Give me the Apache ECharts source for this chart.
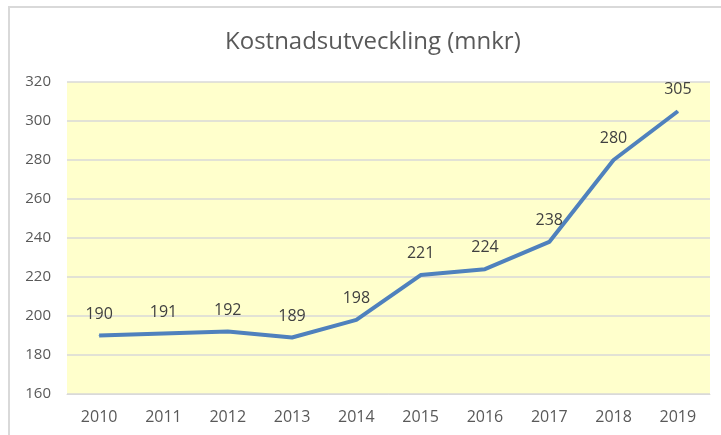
<!DOCTYPE html>
<html>
<head>
<meta charset="utf-8">
<script src="https://cdn.jsdelivr.net/npm/echarts@6/dist/echarts.min.js"></script>
<style>
  html, body { margin: 0; padding: 0; background: #fff; }
  #chart { width: 721px; height: 435px; }
</style>
</head>
<body>
<div id="chart"></div>
<script>
// data
var years = ['2010', '2011', '2012', '2013', '2014', '2015', '2016', '2017', '2018', '2019']
var kostnad = [190, 191, 192, 189, 198, 221, 224, 238, 280, 305]

var myChart = echarts.init(document.getElementById('chart'))

var option = {
  animation: false,
  textStyle: { fontFamily: 'Open Sans, sans-serif' },
  title: {
    text: 'Kostnadsutveckling (mnkr)',
    left: 220,
    top: 25,
    textStyle: { fontSize: 24, fontWeight: 'normal', color: '#595959', fontFamily: 'Open Sans, sans-serif' }
  },
  graphic: [
    { // outer frame, only top and left edges visible
      type: 'polyline',
      shape: { points: [[9, 435], [9, 7], [721, 7]] },
      style: { stroke: '#d9d9d9', lineWidth: 2, fill: null }
    }
  ],
  grid: {
    left: 67,
    right: 11,
    top: 82,
    bottom: 41,
    show: true,
    backgroundColor: '#ffffcc',
    borderWidth: 0
  },
  xAxis: {
    type: 'category',
    data: years,
    boundaryGap: true,
    axisLine: { lineStyle: { color: '#d9d9d9' } },
    axisTick: { show: false },
    axisLabel: { color: '#595959', fontSize: 16, margin: 15 }
  },
  yAxis: {
    type: 'value',
    min: 160,
    max: 320,
    interval: 20,
    axisLine: { show: false },
    axisTick: { show: false },
    splitLine: { lineStyle: { color: '#d9d9d9', width: 1.5 } },
    axisLabel: { color: '#595959', fontSize: 15, margin: 16 }
  },
  series: [
    {
      type: 'line',
      data: kostnad,
      symbol: 'circle',
      symbolSize: 1,
      itemStyle: { color: '#4f81bd' },
      lineStyle: { color: '#4f81bd', width: 4 },
      label: {
        show: true,
        position: 'top',
        distance: 13,
        color: '#404040',
        fontSize: 16
      }
    }
  ]
}

myChart.setOption(option)
</script>
</body>
</html>
